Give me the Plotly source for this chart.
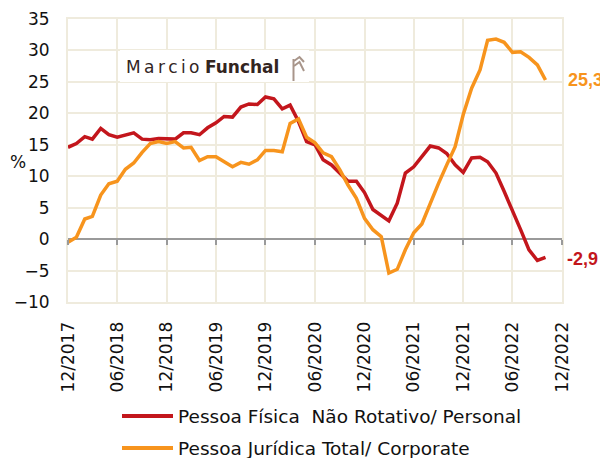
import pandas as pd
import plotly.graph_objects as go

# monthly series, 12/2017 .. 10/2022 (% yoy)
months = pd.date_range("2017-12-01", "2022-10-01", freq="MS")

pessoa_fisica = [
    14.6, 15.2, 16.3, 15.9, 17.6, 16.6, 16.2, 16.6, 16.9, 15.9,
    15.8, 16.0, 15.9, 15.9, 16.9, 16.9, 16.6, 17.7, 18.5, 19.5,
    19.4, 21.0, 21.5, 21.4, 22.6, 22.3, 20.7, 21.3, 18.7, 15.5,
    15.0, 12.6, 11.8, 10.5, 9.2, 9.2, 7.4, 4.7, 3.7, 2.9,
    5.7, 10.5, 11.5, 13.2, 14.8, 14.5, 13.6, 11.8, 10.6, 12.9,
    13.0, 12.3, 10.5, 7.6, 4.6, 1.5, -1.7, -3.4, -2.9,
]

pessoa_juridica = [
    -0.5, 0.3, 3.2, 3.6, 7.0, 8.8, 9.2, 11.1, 12.1, 13.8,
    15.2, 15.5, 15.2, 15.5, 14.5, 14.6, 12.5, 13.1, 13.1, 12.3,
    11.5, 12.2, 11.9, 12.6, 14.1, 14.1, 13.9, 18.4, 19.1, 16.2,
    15.3, 13.7, 13.1, 11.0, 8.6, 6.5, 3.3, 1.5, 0.4, -5.4,
    -4.8, -1.7, 1.0, 2.4, 5.7, 8.9, 11.8, 14.7, 19.8, 24.0,
    26.9, 31.6, 31.8, 31.3, 29.7, 29.8, 28.9, 27.7, 25.3,
]

tick_dates = pd.date_range("2017-12-01", "2022-12-01", freq="6MS")
tick_labels = [d.strftime("%m/%Y") for d in tick_dates]

names = ["Pessoa Física  Não Rotativo/ Personal", "Pessoa Jurídica Total/ Corporate"]
RED = "#c3161c"
ORANGE = "#f7941d"
GRID = "#efebdd"
LOGO = "#a8958a"
FONT = "DejaVu Sans"

# figure is 600x450 (page body adds an 8px margin)
W, H = 600, 450
ML, MR, MT, MB = 60, 46, 11, 156
PW, PH = W - ML - MR, H - MT - MB


def px(x):  # page pixel -> paper x
    return (x - 8 - ML) / PW


def py(y):  # page pixel -> paper y
    return (H - MB - (y - 8)) / PH


fig = go.Figure()
fig.add_trace(go.Scatter(x=months, y=pessoa_fisica, mode="lines", name=names[0],
                         line=dict(color=RED, width=3.5), showlegend=False))
fig.add_trace(go.Scatter(x=months, y=pessoa_juridica, mode="lines", name=names[1],
                         line=dict(color=ORANGE, width=3.5), showlegend=False))

# end-of-series labels
fig.add_annotation(x=months[-1], y=pessoa_juridica[-1], text="<b>25,3</b>", showarrow=False,
                   xanchor="left", yanchor="middle", xshift=20,
                   font=dict(color=ORANGE, size=18, family="Liberation Sans"))
fig.add_annotation(x=months[-1], y=pessoa_fisica[-1], text="<b>-2,9</b>", showarrow=False,
                   xanchor="left", yanchor="middle", xshift=19, yshift=-2,
                   font=dict(color=RED, size=18, family="Liberation Sans"))

# y title "%"
fig.add_annotation(x=px(18), y=12.2, xref="paper", yref="y", text="%", showarrow=False,
                   xanchor="center", yanchor="middle",
                   font=dict(size=17, color="#111", family=FONT))

# logo box
fig.add_shape(type="rect", xref="paper", yref="paper", x0=px(120), x1=px(309),
              y0=py(82), y1=py(50), fillcolor="white", line_width=0, layer="above")
fig.add_annotation(x=px(124), y=py(67), xref="paper", yref="paper",
                   xanchor="left", yanchor="middle",
                   text="M\u2009a\u2009r\u2009c\u2009i\u2009o <b>Funchal</b>",
                   showarrow=False, font=dict(size=17, color="#33251f", family=FONT))
fig.add_shape(type="line", xref="paper", yref="paper", x0=px(293.5), x1=px(293.5),
              y0=py(81), y1=py(59), line=dict(color=LOGO, width=2), layer="above")
for top, bot in [(57, 62), (62, 71)]:
    fig.add_shape(type="path", xref="paper", yref="paper", layer="above",
                  path=f"M {px(294)} {py(top + 4)} L {px(299.5)} {py(top)} L {px(304)} {py(bot)}",
                  line=dict(color=LOGO, width=2))

# legend drawn by hand
for i, (name, col) in enumerate(zip(names, [RED, ORANGE])):
    yy = py(416 + 32 * i)
    fig.add_shape(type="line", xref="paper", yref="paper", x0=px(122), x1=px(173),
                  y0=yy, y1=yy, line=dict(color=col, width=4))
    fig.add_annotation(x=px(176), y=yy, xref="paper", yref="paper",
                       xanchor="left", yanchor="middle",
                       text=name, showarrow=False,
                       font=dict(size=18.5, color="#111", family=FONT))

fig.update_layout(
    width=W, height=H,
    margin=dict(l=ML, r=MR, t=MT, b=MB, autoexpand=False),
    paper_bgcolor="white", plot_bgcolor="white",
    font=dict(family=FONT, size=17, color="#111"),
    showlegend=False,
    xaxis=dict(
        range=[tick_dates[0], tick_dates[-1]], automargin=False,
        tickvals=tick_dates, ticktext=tick_labels, tickangle=-90,
        showgrid=True, gridcolor=GRID, gridwidth=2,
        showline=True, linecolor=GRID, linewidth=2, mirror=True,
        ticks="", ticklabelstandoff=11, zeroline=False,
        tickfont=dict(size=17),
    ),
    yaxis=dict(
        range=[-10, 35], dtick=5, automargin=False,
        showgrid=True, gridcolor=GRID, gridwidth=2,
        showline=True, linecolor=GRID, linewidth=2, mirror=True,
        zeroline=True, zerolinecolor="#9a9a9a", zerolinewidth=2,
        ticks="", ticklabelstandoff=13,
        tickfont=dict(size=17),
    ),
    xaxis2=dict(
        overlaying="x", anchor="free", position=10 / 45, side="bottom",
        range=[tick_dates[0], tick_dates[-1]], matches="x", automargin=False,
        tickvals=tick_dates, showticklabels=False,
        ticks="outside", ticklen=5, tickcolor="#9a9a9a", tickwidth=2,
        showgrid=False, showline=False, zeroline=False,
    ),
)

# dummy trace to activate xaxis2 ticks
fig.add_trace(go.Scatter(x=[months[0]], y=[None], xaxis="x2", showlegend=False,
                         hoverinfo="skip"))

fig.write_html("out.html")
